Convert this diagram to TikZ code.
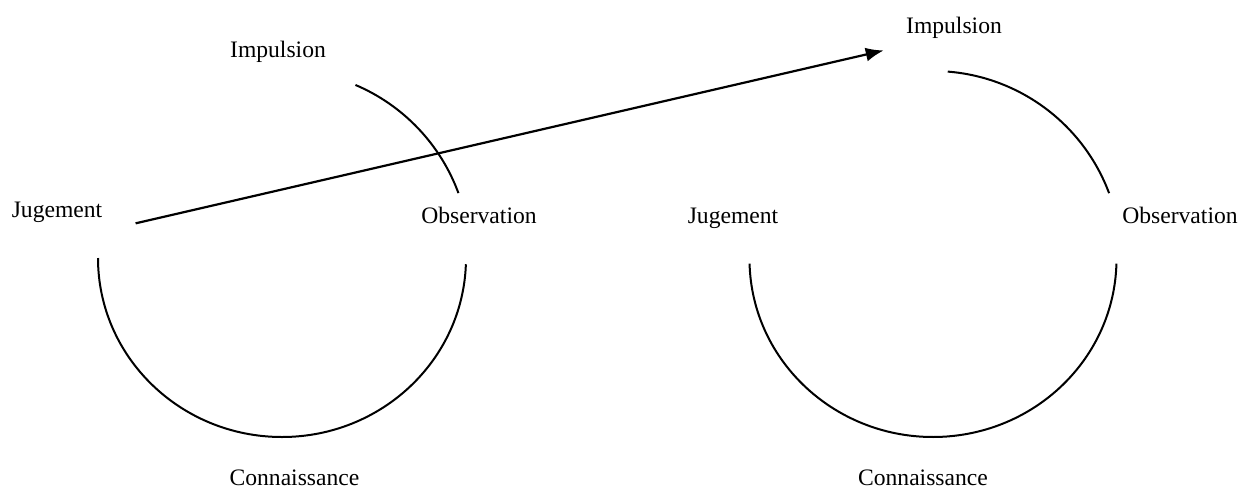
\documentclass[tikz,border=0pt]{standalone}
\usepackage{fontspec}
\setmainfont{Liberation Serif}
\usetikzlibrary{arrows.meta}

\begin{document}
\begin{tikzpicture}[x=0.5pt,y=-0.5pt,
    word/.style={anchor=base,inner sep=3pt,font=\fontsize{11.8pt}{14pt}\selectfont},
    ring/.style={line width=1pt},
    push/.style={line width=1.1pt,-{Latex[length=9pt,width=7pt]}}]
			\useasboundingbox (0,0) rectangle (1239,489);
			% left cycle
			\coordinate (cL) at (282,258);
			\node[word] (impL) at (278,57) {Impulsion};
			\node[word] (jugL) at (57,217) {Jugement};
			\node[word] (obsL) at (479,223) {Observation};
			\node[word] (conL) at (294.5,485) {Connaissance};
			\draw[ring] (cL) ++(67:94pt) arc[start angle=67,end angle=20.2,radius=94pt];
			\draw[ring] (cL) ++(180:92pt and 89.5pt) arc[start angle=180,end angle=358,x radius=92pt,y radius=89.5pt];
			% right cycle
			\coordinate (cR) at (933,259);
			\node[word] (impR) at (954,33) {Impulsion};
			\node[word] (jugR) at (733,223) {Jugement};
			\node[word] (obsR) at (1180,223) {Observation};
			\node[word] (conR) at (923,485) {Connaissance};
			\draw[ring] (cR) ++(85.5:94pt) arc[start angle=85.5,end angle=20.5,radius=94pt];
			\draw[ring] (cR) ++(181.5:91.75pt and 89pt) arc[start angle=181.5,end angle=358.5,x radius=91.75pt,y radius=89pt];
			% from one cycle to the next
			\draw[push] ([xshift=13.5pt,yshift=-5.75pt]jugL.east) -- ([xshift=-8pt,yshift=-3pt]impR.south west);
  		\end{tikzpicture}
\end{document}
